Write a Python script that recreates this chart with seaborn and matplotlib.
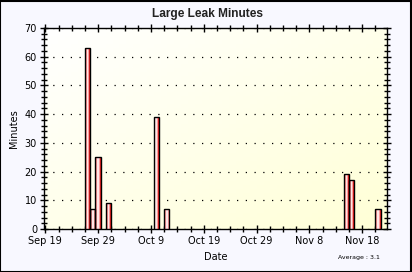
import numpy as np
import pandas as pd
import matplotlib
matplotlib.use("Agg")
import matplotlib.pyplot as plt
import seaborn as sns
from matplotlib.ticker import MultipleLocator, FixedLocator
from matplotlib.patches import Rectangle

# ---- data ----
start_date = "2008-09-19"
dates = ["2008-09-27", "2008-09-28", "2008-09-29", "2008-10-01", "2008-10-10",
         "2008-10-12", "2008-11-15", "2008-11-16", "2008-11-21"]
minutes = [63, 7, 25, 9, 39, 7, 19, 17, 7]
tick_labels = ["Sep 19", "Sep 29", "Oct 9", "Oct 19", "Oct 29", "Nov 8", "Nov 18"]
title = "Large Leak Minutes"
xlabel = "Date"
ylabel = "Minutes"
average_text = "Average : 3.1"

start = pd.Timestamp(start_date)
day = [(pd.Timestamp(d) - start).days for d in dates]
df = pd.DataFrame({"day": day, "minutes": minutes})

sns.set_theme(style="white")
plt.rcParams["font.family"] = ["DejaVu Sans"]

fig = plt.figure(figsize=(4.12, 2.72), dpi=100, facecolor="#f8f8ff")
ax = fig.add_axes([44 / 412, 1 - 229 / 272, (387 - 44) / 412, (229 - 28) / 272])

# gradient background
grad = np.zeros((50, 50, 3))
yy, xx = np.mgrid[0:1:50j, 0:1:50j]
t = (xx + yy) / 2.0
c0 = np.array([1.0, 1.0, 1.0])
c1 = np.array([1.0, 1.0, 0.84])
for i in range(3):
    grad[:, :, i] = c0[i] + (c1[i] - c0[i]) * t
ax.imshow(grad, extent=[0, 1, 0, 1], transform=ax.transAxes, aspect="auto", zorder=0)

# bars: striped cylinder look
common = dict(data=df, x="day", y="minutes", native_scale=True, errorbar=None,
              saturation=1, ax=ax, zorder=3)
sns.barplot(**common, width=1.0, color="#ee2222", linewidth=0)
sns.barplot(**common, width=0.66, color="#ff9a9a", linewidth=0)
sns.barplot(**common, width=0.28, color="#ffe6e6", linewidth=0)
sns.barplot(**common, width=1.0, color="black", fill=False, linewidth=1.0)

ax.set_xlim(-0.25, 64.7)
ax.set_ylim(0, 70)
major_days = [10 * i for i in range(len(tick_labels))]
ax.xaxis.set_major_locator(FixedLocator(major_days))
ax.set_xticklabels(tick_labels)
ax.xaxis.set_minor_locator(MultipleLocator(2.5))
ax.yaxis.set_major_locator(MultipleLocator(10))
ax.yaxis.set_minor_locator(MultipleLocator(2))

ax.tick_params(which="both", direction="inout", top=True, right=True,
               bottom=True, left=True, colors="black", width=1,
               labelsize=7, labelcolor="black", pad=2)
ax.tick_params(which="major", length=6)
ax.tick_params(which="minor", length=4)

ax.yaxis.grid(True, which="major", color="black", linestyle=(0, (1, 6)), linewidth=0.9)
ax.xaxis.grid(False)
ax.set_axisbelow(False)
for s in ax.spines.values():
    s.set_color("black")
    s.set_linewidth(1)

ax.set_xlabel(xlabel, fontsize=7, color="black", labelpad=4)
ax.set_ylabel(ylabel, fontsize=7, color="black", labelpad=4)

fig.text(207 / 412, 1 - 14 / 272, title, ha="center", va="center",
         fontsize=8.6, fontweight="bold", color="#222222", family=["Liberation Sans"])
fig.text(380 / 412, 1 - 257 / 272, average_text, ha="right", va="center",
         fontsize=4.5, color="black")

fig.patches.append(Rectangle((0.001, 0.001), 0.997, 0.996, transform=fig.transFigure,
                             fill=False, edgecolor="black", linewidth=1.5, zorder=10))

fig.savefig("out.png", dpi=100, facecolor=fig.get_facecolor())
